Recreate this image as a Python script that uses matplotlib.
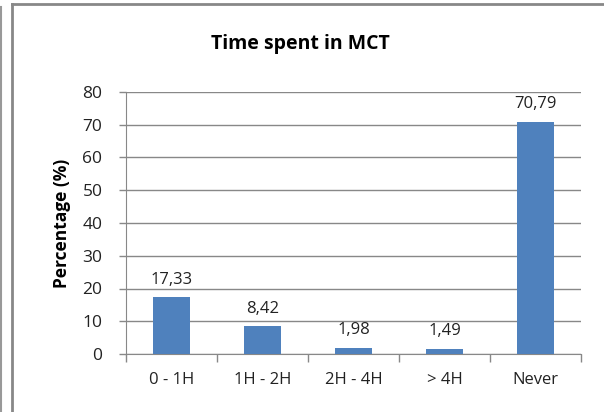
import matplotlib
matplotlib.use("Agg")
import matplotlib.pyplot as plt
from matplotlib.lines import Line2D

categories = ["0 - 1H", "1H - 2H", "2H - 4H", "> 4H", "Never"]
values = [17.33, 8.42, 1.98, 1.49, 70.79]
labels = ["17,33", "8,42", "1,98", "1,49", "70,79"]
yticks = [0, 10, 20, 30, 40, 50, 60, 70, 80]

plt.rcParams['font.family'] = ['Open Sans', 'DejaVu Sans']

W, H = 604, 412
fig = plt.figure(figsize=(W / 100, H / 100), dpi=100)
ax = fig.add_axes([126 / W, 1 - 354 / H, 455 / W, (354 - 92) / H])

x = list(range(len(categories)))
ax.bar(x, values, width=0.4, color="#4F81BD", zorder=3)
for xi, v, lab in zip(x, values, labels):
    ax.annotate(lab, (xi, v), xytext=(0, 7), textcoords="offset points",
                ha="center", va="bottom", fontsize=12, color="#222222")

ax.set_xlim(-0.5, len(categories) - 0.5)
ax.set_ylim(0, 80)
ax.set_yticks(yticks)
ax.set_yticklabels([str(t) for t in yticks], fontsize=12.5, color="#222222")
ax.set_xticks(x)
ax.set_xticklabels(categories, fontsize=12, color="#222222")
ax.tick_params(axis="x", length=0, pad=13)
ax.tick_params(axis="y", length=5, color="#888888", width=1, pad=12)
ax.set_xticks([i - 0.5 for i in range(len(categories) + 1)], minor=True)
ax.tick_params(axis="x", which="minor", length=6, color="#888888", width=1)

ax.grid(axis="y", color="#888888", linewidth=1, zorder=0)
for s in ["top", "right"]:
    ax.spines[s].set_visible(False)
ax.spines["left"].set_color("#888888")
ax.spines["bottom"].set_color("#888888")

ax.set_ylabel("Percentage (%)", fontsize=12.5, fontweight="bold", labelpad=8)
fig.text(300 / W, 1 - 44 / H, "Time spent in MCT",
         ha="center", va="center", fontsize=14, fontweight="bold")

def fx(px):
    return px / W
def fy(py):
    return 1 - py / H
fig.add_artist(Line2D([fx(1), fx(1)], [fy(7), fy(412)], color="#999999", lw=1.5))
fig.add_artist(Line2D([fx(12), fx(12)], [fy(4), fy(412)], color="#888888", lw=2))
fig.add_artist(Line2D([fx(12), fx(604)], [fy(4), fy(4)], color="#888888", lw=2))

fig.savefig("out.png", dpi=100)
